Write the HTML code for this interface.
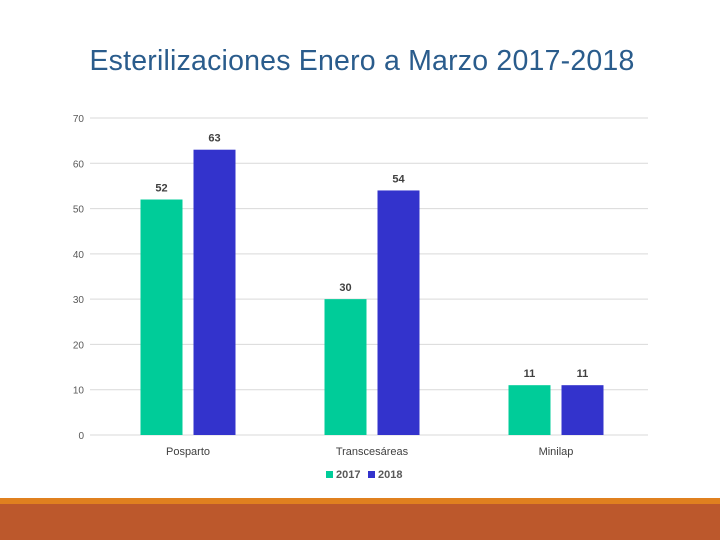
<!DOCTYPE html>
<html><head><meta charset="utf-8"><style>
body{margin:0;width:720px;height:540px;background:#fff;overflow:hidden;position:relative;font-family:"Liberation Sans",sans-serif}
#title{position:absolute;top:45px;left:0;width:724px;text-align:center;font-size:28.5px;color:#2A5C8C;font-family:"Liberation Sans",sans-serif;font-weight:normal;letter-spacing:0.2px}
#stripe{position:absolute;left:0;top:498px;width:720px;height:6px;background:#E0801F}
#band{position:absolute;left:0;top:504px;width:720px;height:36px;background:#BC582C}
svg{position:absolute;left:0;top:0}
</style></head><body>
<div id="title">Esterilizaciones Enero a Marzo 2017-2018</div>
<svg id="chart" width="720" height="540"></svg>
<div id="stripe"></div>
<div id="band"></div>
<script>
const categories=["Posparto","Transcesáreas","Minilap"];
const series2017=[52,30,11];
const series2018=[63,54,11];
const seriesNames=["2017","2018"];
const yTicks=[0,10,20,30,40,50,60,70];
const colors=["#00CC99","#3333CC"];
const NS="http://www.w3.org/2000/svg";
const svg=document.getElementById("chart");
const x0=96,x1=648,yBase=435,yTop=118,yMax=70;
const y=v=>yBase-(yBase-yTop)*v/yMax;
const bandW=(x1-x0)/categories.length;
const cx=i=>x0+bandW*(i+0.5);
function mk(t,a){const e=document.createElementNS(NS,t);for(const k in a)e.setAttribute(k,a[k]);svg.appendChild(e);return e;}
yTicks.forEach(t=>{
  const l=mk("line",{x1:90,x2:x1,y1:y(t),y2:y(t),stroke:"#D9D9D9","stroke-width":1});
  
  
  const tx=mk("text",{x:84,y:y(t)+4,"text-anchor":"end","font-size":10,fill:"#595959"});
  tx.textContent=t;
  
  
});
const bw=42,gap=11;
[series2017,series2018].forEach((s,si)=>{
  s.forEach((v,i)=>{
    const bx=si===0?cx(i)-gap/2-bw:cx(i)+gap/2;
    const r=mk("rect",{x:bx,y:y(v),width:bw,height:yBase-y(v),fill:colors[si]});
    
    
    const t=mk("text",{x:bx+bw/2,y:y(v)-8,"text-anchor":"middle","font-size":11,"font-weight":"bold",fill:"#404040"});
    t.textContent=v;
    
    
  });
});
categories.forEach((c,i)=>{
  const t=mk("text",{x:cx(i),y:455,"text-anchor":"middle","font-size":11,fill:"#404040"});
  t.textContent=c;
  
  
});
seriesNames.forEach((n,i)=>{
  const lx=326+i*42;
  const r=mk("rect",{x:lx,y:471,width:7,height:7,fill:colors[i]});
  
  
  const t=mk("text",{x:lx+10,y:478,"font-size":11,"font-weight":"bold",fill:"#595959"});
  t.textContent=n;
  
  
});
</script>
</body></html>
